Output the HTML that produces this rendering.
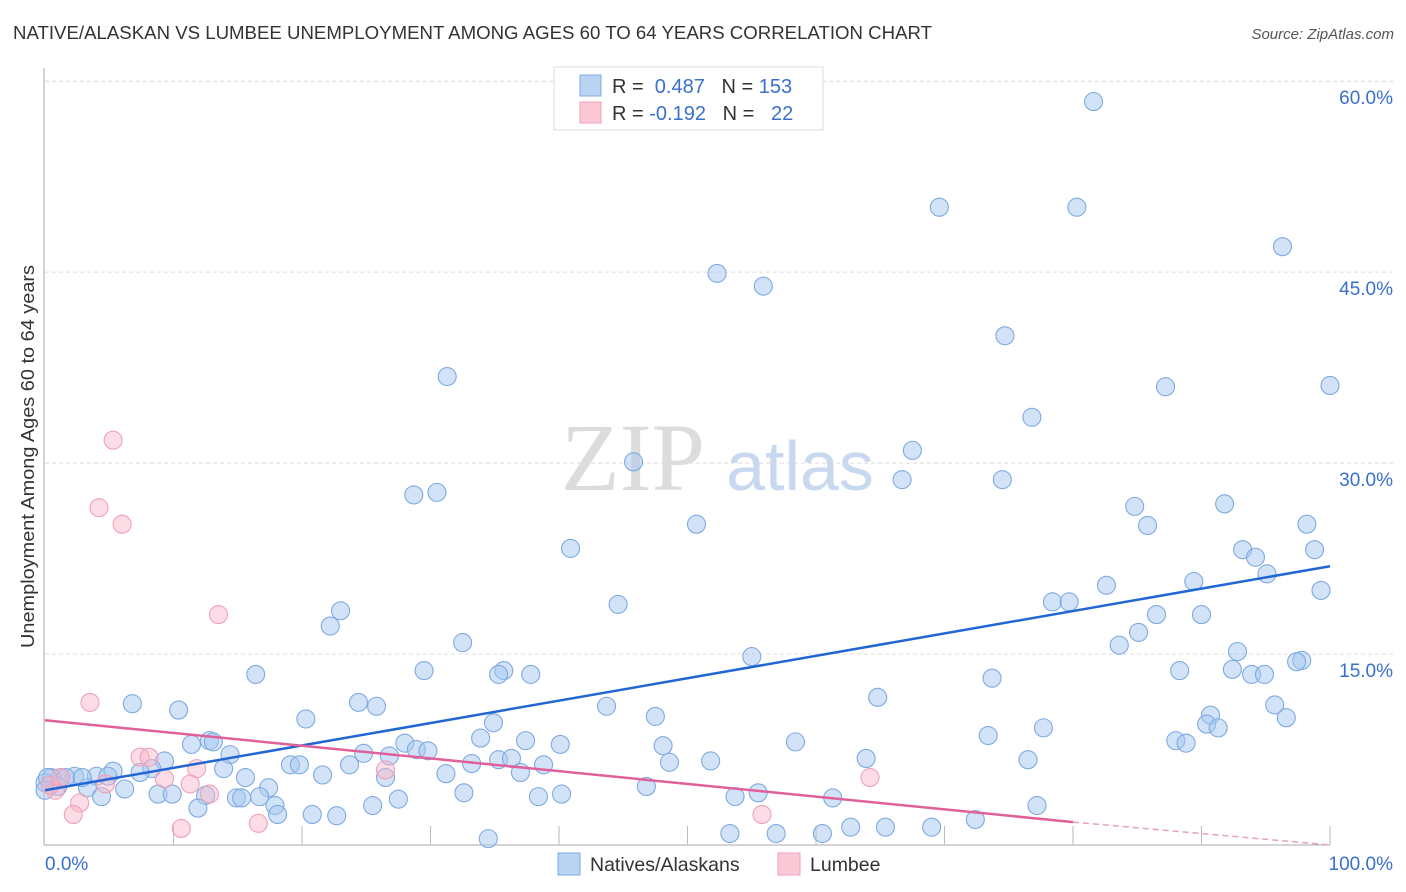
<!DOCTYPE html>
<html><head><meta charset="utf-8"><style>
body{margin:0;background:#fff;font-family:"Liberation Sans",sans-serif;}
svg{display:block}
</style></head><body>
<svg id="c" width="1406" height="892" viewBox="0 0 1406 892">
<text x="13" y="39" font-size="18" fill="#333" textLength="919" lengthAdjust="spacingAndGlyphs">NATIVE/ALASKAN VS LUMBEE UNEMPLOYMENT AMONG AGES 60 TO 64 YEARS CORRELATION CHART</text>
<text x="1394" y="39" font-size="15" fill="#555" font-style="italic" text-anchor="end">Source: ZipAtlas.com</text>
<g id="grid"></g>
<text x="633" y="490" font-size="96" font-family="Liberation Serif,serif" fill="#dcdcdc" text-anchor="middle">ZIP</text>
<text x="800" y="490" font-size="70" fill="#c8d8ee" text-anchor="middle">atlas</text>
<g id="pts"></g>
<g id="trend"></g>
<text transform="translate(34,648) rotate(-90)" font-size="18" fill="#333" textLength="383" lengthAdjust="spacingAndGlyphs">Unemployment Among Ages 60 to 64 years</text>
<text x="45" y="870" font-size="19" fill="#3a6fcf">0.0%</text>
<text x="1393" y="870" font-size="19" fill="#3a6fcf" text-anchor="end">100.0%</text>
<g>
<rect x="554" y="67" width="269" height="63" fill="#fff" stroke="#ddd"/>
<rect x="580" y="75" width="21" height="21" fill="#b9d3f3" stroke="#7ea8e0"/>
<rect x="580" y="102" width="21" height="21" fill="#fbc8d6" stroke="#f2a0b8"/>
<text x="612" y="93" font-size="20" fill="#333">R = <tspan fill="#3a6fcf">&#160;0.487</tspan>&#160;&#160;&#160;N = <tspan fill="#3a6fcf">153</tspan></text>
<text x="612" y="120" font-size="20" fill="#333">R = <tspan fill="#3a6fcf">-0.192</tspan>&#160;&#160;&#160;N = <tspan fill="#3a6fcf">&#160;&#160;22</tspan></text>
</g>
<g>
<rect x="558" y="853" width="22" height="22" fill="#b9d3f3" stroke="#7ea8e0"/>
<text x="590" y="871" font-size="19.5" fill="#333">Natives/Alaskans</text>
<rect x="778" y="853" width="22" height="22" fill="#fbc8d6" stroke="#f2a0b8"/>
<text x="810" y="871" font-size="19.5" fill="#333">Lumbee</text>
</g>
</svg>
<script>
const yTicks=[15,30,45,60];
const yTickLabels=["15.0%","30.0%","45.0%","60.0%"];
const xTicks=[10,20,30,40,50,60,70,80,90,100];
const blueX=[81.6,69.6,80.3,96.3,52.3,55.9,74.7,31.3,87.2,100,76.8,45.8,67.5,66.7,74.5,28.7,30.5,84.8,91.8,50.7,85.8,98.2,40.9,93.2,94.2,98.8,95.1,82.6,89.4,99.3,44.6,78.4,79.7,23.0,22.2,86.5,90.0,85.1,32.5,83.6,92.8,55.0,97.8,97.4,16.4,29.5,35.7,35.3,37.8,88.3,92.4,93.9,94.9,73.7,64.8,6.8,10.4,24.4,25.8,43.7,90.7,95.7,96.6,20.3,47.5,34.9,90.4,91.3,77.7,73.4,12.8,13.1,11.4,28.0,28.9,29.8,33.9,37.4,40.1,48.1,58.4,88.0,88.8,14.4,9.3,8.3,7.4,5.3,4.0,2.3,1.2,0.5,1.0,3.3,6.2,13.9,15.6,19.1,19.8,21.6,23.7,24.8,26.8,31.2,33.2,35.3,36.3,37.0,38.8,48.6,51.8,63.9,76.5,26.5,8.8,9.9,4.4,17.4,12.5,14.9,15.3,16.7,17.9,18.1,11.9,20.8,22.7,25.5,27.5,32.6,38.4,40.2,46.8,53.7,55.5,61.3,77.2,72.4,34.5,53.3,56.9,60.5,62.7,65.4,69.0,0,0.2,0,1.6,4.9,2.9];
const blueY=[58.4,50.1,50.1,47.0,44.9,43.9,40.0,36.8,36.0,36.1,33.6,30.1,31.0,28.7,28.7,27.5,27.7,26.6,26.8,25.2,25.1,25.2,23.3,23.2,22.6,23.2,21.3,20.4,20.7,20.0,18.9,19.1,19.1,18.4,17.2,18.1,18.1,16.7,15.9,15.7,15.2,14.8,14.5,14.4,13.4,13.7,13.7,13.4,13.4,13.7,13.8,13.4,13.4,13.1,11.6,11.1,10.6,11.2,10.9,10.9,10.2,11.0,10.0,9.9,10.1,9.6,9.5,9.2,9.2,8.6,8.2,8.1,7.9,8.0,7.5,7.4,8.4,8.2,7.9,7.8,8.1,8.2,8.0,7.1,6.6,6.0,5.7,5.8,5.4,5.4,5.3,5.3,4.6,4.5,4.4,6.0,5.3,6.3,6.3,5.5,6.3,7.2,7.0,5.6,6.4,6.7,6.8,5.7,6.3,6.5,6.6,6.8,6.7,5.3,4.0,4.0,3.8,4.5,3.9,3.7,3.7,3.8,3.1,2.4,2.9,2.4,2.3,3.1,3.6,4.1,3.8,4.0,4.6,3.8,4.1,3.7,3.1,2.0,0.5,0.9,0.9,0.9,1.4,1.4,1.4,4.9,5.3,4.3,5.3,5.4,5.3];
const pinkX=[5.3,4.2,6.0,13.5,3.5,7.4,8.1,11.8,26.5,64.2,9.3,11.3,4.7,12.8,2.7,2.2,10.6,16.6,55.8,0.8,0.4,1.2];
const pinkY=[31.8,26.5,25.2,18.1,11.2,6.9,6.9,6.0,5.9,5.3,5.2,4.8,4.8,4.0,3.3,2.4,1.3,1.7,2.4,4.3,4.7,5.3];
const blueTrendX=[0,100];
const blueTrendY=[4.3,21.9];
const pinkTrendX=[0,80,100];
const pinkTrendY=[9.8,1.8,0];

const NS="http://www.w3.org/2000/svg";
const X=v=>45+v*12.85, Y=v=>845-v*12.73;
function mk(t,a,p){const e=document.createElementNS(NS,t);for(const k in a)e.setAttribute(k,a[k]);p.appendChild(e);return e;}
const grid=document.getElementById('grid');
yTicks.forEach((t,i)=>{
 const l=mk('line',{x1:45,x2:1393,y1:Y(t),y2:Y(t),stroke:'#dcdcdc','stroke-dasharray':'4,3'},grid);
 
 
 const tx=mk('text',{x:1393,y:Y(t)+23,'font-size':19,fill:'#3a6fcf','text-anchor':'end'},grid);
 tx.textContent=yTickLabels[i];
 
 
});
const ax=mk('line',{x1:44,x2:44,y1:68,y2:845,stroke:'#aaa'},grid);


const bx=mk('line',{x1:44,x2:1330,y1:845,y2:845,stroke:'#aaa'},grid);


xTicks.forEach(t=>{
 const l=mk('line',{x1:X(t),x2:X(t),y1:826,y2:845,stroke:'#bbb'},grid);
 
 
});
const pts=document.getElementById('pts');
blueX.forEach((v,i)=>{
 const c=mk('circle',{cx:X(v),cy:Y(blueY[i]),r:9,fill:'rgba(165,199,240,0.5)',stroke:'#7eaae2','stroke-width':1.1},pts);
 
 
});
pinkX.forEach((v,i)=>{
 const c=mk('circle',{cx:X(v),cy:Y(pinkY[i]),r:9,fill:'rgba(248,180,200,0.45)',stroke:'#f0a0b8','stroke-width':1.1},pts);
 
 
});
const tr=document.getElementById('trend');
const bl=mk('line',{x1:X(blueTrendX[0]),y1:Y(blueTrendY[0]),x2:X(blueTrendX[1]),y2:Y(blueTrendY[1]),stroke:'#2166d4','stroke-width':2.5},tr);


const pl=mk('line',{x1:X(pinkTrendX[0]),y1:Y(pinkTrendY[0]),x2:X(pinkTrendX[1]),y2:Y(pinkTrendY[1]),stroke:'#e0609a','stroke-width':2.5},tr);


const pd=mk('line',{x1:X(pinkTrendX[1]),y1:Y(pinkTrendY[1]),x2:X(pinkTrendX[2]),y2:Y(pinkTrendY[2]),stroke:'#e8a0bc','stroke-width':1.5,'stroke-dasharray':'6,4'},tr);


</script>
</body></html>
